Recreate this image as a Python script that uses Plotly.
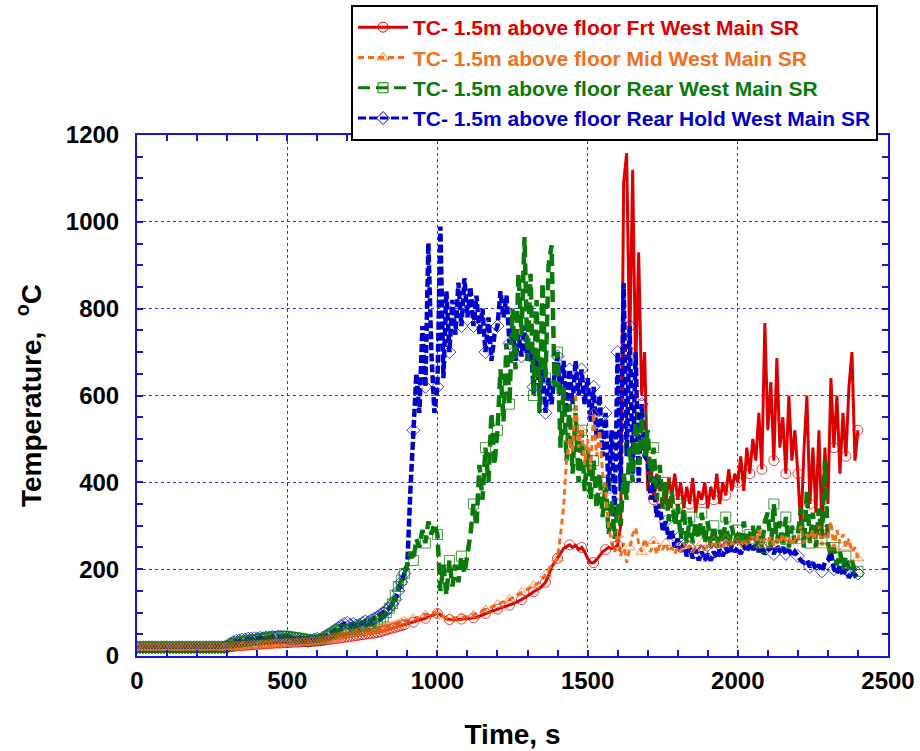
import plotly.graph_objects as go

# time grid (s), 10 s spacing
time_s = list(range(0, 2410, 10))

frt_west = [
    20,20,20,20,20,20,20,20,20,20,
    20,20,20,20,20,20,20,20,20,20,
    20,20,20,20,20,20,20,20,20,20,
    21,22,22,23,24,24,25,25,26,26,
    27,27,28,28,29,29,30,30,30,31,
    31,31,32,32,32,33,33,33,34,34,
    35,35,36,37,38,39,40,41,42,43,
    44,45,46,47,48,49,50,51,52,53,
    54,56,58,60,62,64,66,68,70,72,
    74,76,78,80,82,84,87,90,93,96,
    98,95,90,86,84,83,84,84,85,85,
    86,87,88,89,92,95,98,101,103,105,
    108,111,113,115,117,120,123,126,130,134,
    138,143,148,152,156,162,170,185,205,215,
    225,238,248,252,256,250,255,245,250,240,
    225,215,215,222,230,240,245,250,248,250,
    255,300,1090,1158,700,1120,650,930,600,700,
    380,450,360,420,380,400,350,410,370,420,
    360,400,340,390,350,410,330,380,360,400,
    340,390,360,420,350,400,370,430,380,420,
    400,460,380,480,420,500,450,560,430,767,
    520,631,450,686,480,550,420,600,450,520,
    420,290,470,600,350,480,330,520,290,480,
    350,640,480,600,420,560,460,620,700,450,
    520]

mid_west = [
    20,20,20,20,20,20,20,20,20,20,
    20,20,20,20,20,20,20,20,20,20,
    20,20,20,20,20,20,20,20,20,20,
    20,21,21,22,22,23,23,24,24,25,
    25,25,26,26,27,27,28,28,28,29,
    29,29,30,30,30,31,31,31,32,32,
    33,34,35,36,38,40,42,44,46,48,
    50,51,52,53,54,55,56,57,58,59,
    60,62,64,66,68,70,72,74,77,80,
    82,84,86,88,90,92,94,96,98,100,
    98,94,90,88,87,87,88,88,89,90,
    91,92,94,97,100,103,106,109,112,115,
    118,121,124,127,130,134,138,142,146,150,
    154,158,162,166,170,178,188,200,210,215,
    225,280,343,450,500,470,605,480,520,440,
    500,430,560,460,520,420,380,300,260,240,
    280,230,260,215,250,280,295,260,240,270,
    250,240,265,235,255,245,260,240,250,235,
    250,240,260,245,255,240,250,245,260,240,
    255,245,265,250,260,245,270,250,260,255,
    265,250,270,255,265,280,260,290,255,270,
    260,275,255,270,260,280,265,275,255,270,
    265,300,260,280,270,290,265,300,255,280,
    270,310,250,290,260,280,250,270,240,250,
    225]

rear_west = [
    20,20,20,20,20,20,20,20,20,20,
    20,20,20,20,20,20,20,20,20,20,
    20,20,20,20,20,20,20,20,20,20,
    22,25,28,30,32,33,34,35,36,38,
    38,40,40,42,42,44,44,45,45,46,
    45,44,43,42,41,40,38,37,36,35,
    36,38,40,44,48,52,56,60,62,60,
    58,62,64,66,64,70,68,72,75,70,
    80,85,90,100,110,120,140,160,175,190,
    210,240,220,270,250,290,260,310,280,305,
    280,150,210,140,220,160,210,170,230,190,
    240,280,350,300,440,360,480,400,560,440,
    520,660,540,720,580,800,660,880,740,965,
    680,880,600,820,560,860,640,900,946,620,
    700,480,620,450,580,420,560,400,520,380,
    480,360,450,340,420,320,400,280,360,270,
    350,300,420,360,480,400,540,440,550,460,
    520,400,480,360,440,340,400,310,380,300,
    350,270,340,260,320,260,310,270,330,260,
    310,250,300,250,290,260,320,250,300,260,
    290,250,310,250,280,300,250,300,250,310,
    330,250,350,260,310,250,320,250,300,260,
    280,340,250,380,260,330,250,340,270,450,
    260,230,250,210,240,200,230,200,220,195,
    195]

rear_hold_west = [
    20,20,20,20,20,20,20,20,20,20,
    20,20,20,20,20,20,20,20,20,20,
    20,20,20,20,20,20,20,20,20,20,
    22,28,32,35,36,38,38,40,40,41,
    40,42,41,43,42,44,43,45,44,43,
    42,41,40,40,38,37,36,35,36,38,
    40,38,42,46,50,55,60,65,70,74,
    76,72,74,70,72,76,80,78,82,86,
    90,95,100,105,110,120,130,150,170,190,
    210,380,520,650,560,760,620,951,700,560,
    620,989,640,840,700,820,740,860,760,870,
    780,850,760,830,740,800,700,780,680,740,
    760,840,780,830,720,760,680,740,690,760,
    680,720,620,700,600,660,560,640,580,650,
    690,600,680,560,660,580,680,600,660,580,
    640,540,620,500,600,460,560,380,520,320,
    700,380,859,460,760,420,700,400,580,460,
    450,360,400,320,350,290,310,270,290,250,
    270,240,260,230,250,225,245,220,240,220,
    235,220,240,225,245,230,250,235,255,240,
    250,235,255,240,260,245,255,240,250,235,
    245,250,235,255,240,250,235,245,230,240,
    230,220,215,220,205,215,200,210,195,215,
    220,240,200,190,210,185,200,180,195,185,
    190]

series_names = [
    "TC- 1.5m above floor Frt West Main SR",
    "TC- 1.5m above floor Mid West Main SR",
    "TC- 1.5m above floor Rear West Main SR",
    "TC- 1.5m above floor Rear Hold West Main SR",
]
x_ticks = [0, 500, 1000, 1500, 2000, 2500]
y_ticks = [0, 200, 400, 600, 800, 1000, 1200]

RED = "#dd0000"
ORANGE = "#f07020"
GREEN = "#0a7a0a"
BLUE = "#0000cc"
AXIS_BLUE = "#1515dd"
GRID_BLUE = "#3030e8"

styles = [
    dict(y=frt_west, color=RED, dash="solid", symbol="circle-open", width=3),
    dict(y=mid_west, color=ORANGE, dash="6px,4px", symbol="triangle-up-open", width=3),
    dict(y=rear_west, color=GREEN, dash="12px,6px", symbol="square-open", width=4.5),
    dict(y=rear_hold_west, color=BLUE, dash="8px,3px", symbol="diamond-open", width=4.5),
]

# marker subset: every point before 900 s, every 4th afterwards
mark_idx = [i for i, t in enumerate(time_s) if t < 900 or i % 4 == 0]

fig = go.Figure()
draw_order = [0, 3, 2, 1]
for k in draw_order:
    s = styles[k]
    fig.add_trace(go.Scatter(x=time_s, y=s["y"], mode="lines", showlegend=False,
                             line=dict(color=s["color"], width=s["width"], dash=s["dash"]),
                             hoverinfo="skip"))
for k in draw_order:
    s = styles[k]
    fig.add_trace(go.Scatter(x=[time_s[i] for i in mark_idx], y=[s["y"][i] for i in mark_idx],
                             mode="markers", showlegend=False,
                             marker=dict(symbol=s["symbol"], size=10, color=s["color"],
                                         line=dict(width=1, color=s["color"]), opacity=0.75),
                             hoverinfo="skip"))
for k in range(4):
    s = styles[k]
    fig.add_trace(go.Scatter(x=[None], y=[None], mode="lines+markers",
                             name=f"<span style='color:{s['color']}'>{series_names[k]}</span>",
                             legendgroup=f"g{k}",
                             line=dict(color=s["color"], width=3, dash=s["dash"]),
                             marker=dict(symbol=s["symbol"], size=10, color=s["color"],
                                         line=dict(width=1, color=s["color"]))))

tick_font = dict(family="Liberation Sans", size=24, color="black", weight="bold")
title_font = dict(family="Liberation Sans", size=28, color="black", weight="bold")

axis_common = dict(
    showline=True, linecolor=AXIS_BLUE, linewidth=2, mirror="ticks",
    ticks="inside", tickcolor=AXIS_BLUE, ticklen=6, tickwidth=1.5,
    showgrid=True, gridcolor=GRID_BLUE, griddash="dot", gridwidth=1,
    tickfont=tick_font, zeroline=False, automargin=False,
)

fig.update_xaxes(range=[0, 2500], tickvals=x_ticks, ticklabelstandoff=2,
                 minor=dict(dtick=100, ticks="inside", ticklen=6, tickcolor=AXIS_BLUE, showgrid=False),
                 title=dict(text="Time, s", standoff=32, font=title_font),
                 **axis_common)
fig.update_yaxes(range=[0, 1200], tickvals=y_ticks, ticklabelstandoff=11,
                 minor=dict(dtick=50, ticks="inside", ticklen=6, tickcolor=AXIS_BLUE, showgrid=False),
                 title=dict(text="Temperature,  <sup>o</sup>C", standoff=16, font=title_font),
                 **axis_common)

fig.update_layout(
    width=920, height=751,
    margin=dict(l=137, r=32, t=135, b=95, autoexpand=False),
    paper_bgcolor="white", plot_bgcolor="white",
    legend=dict(x=0.285, y=1.2495, xanchor="left", yanchor="top",
                bordercolor="black", borderwidth=2, bgcolor="white",
                font=dict(family="Liberation Sans", size=21, weight="bold"),
                itemwidth=50, tracegroupgap=2, traceorder="normal"),
)

fig.write_html("out.html", config={"displayModeBar": False},
               post_script="document.body.style.margin='0px';")
